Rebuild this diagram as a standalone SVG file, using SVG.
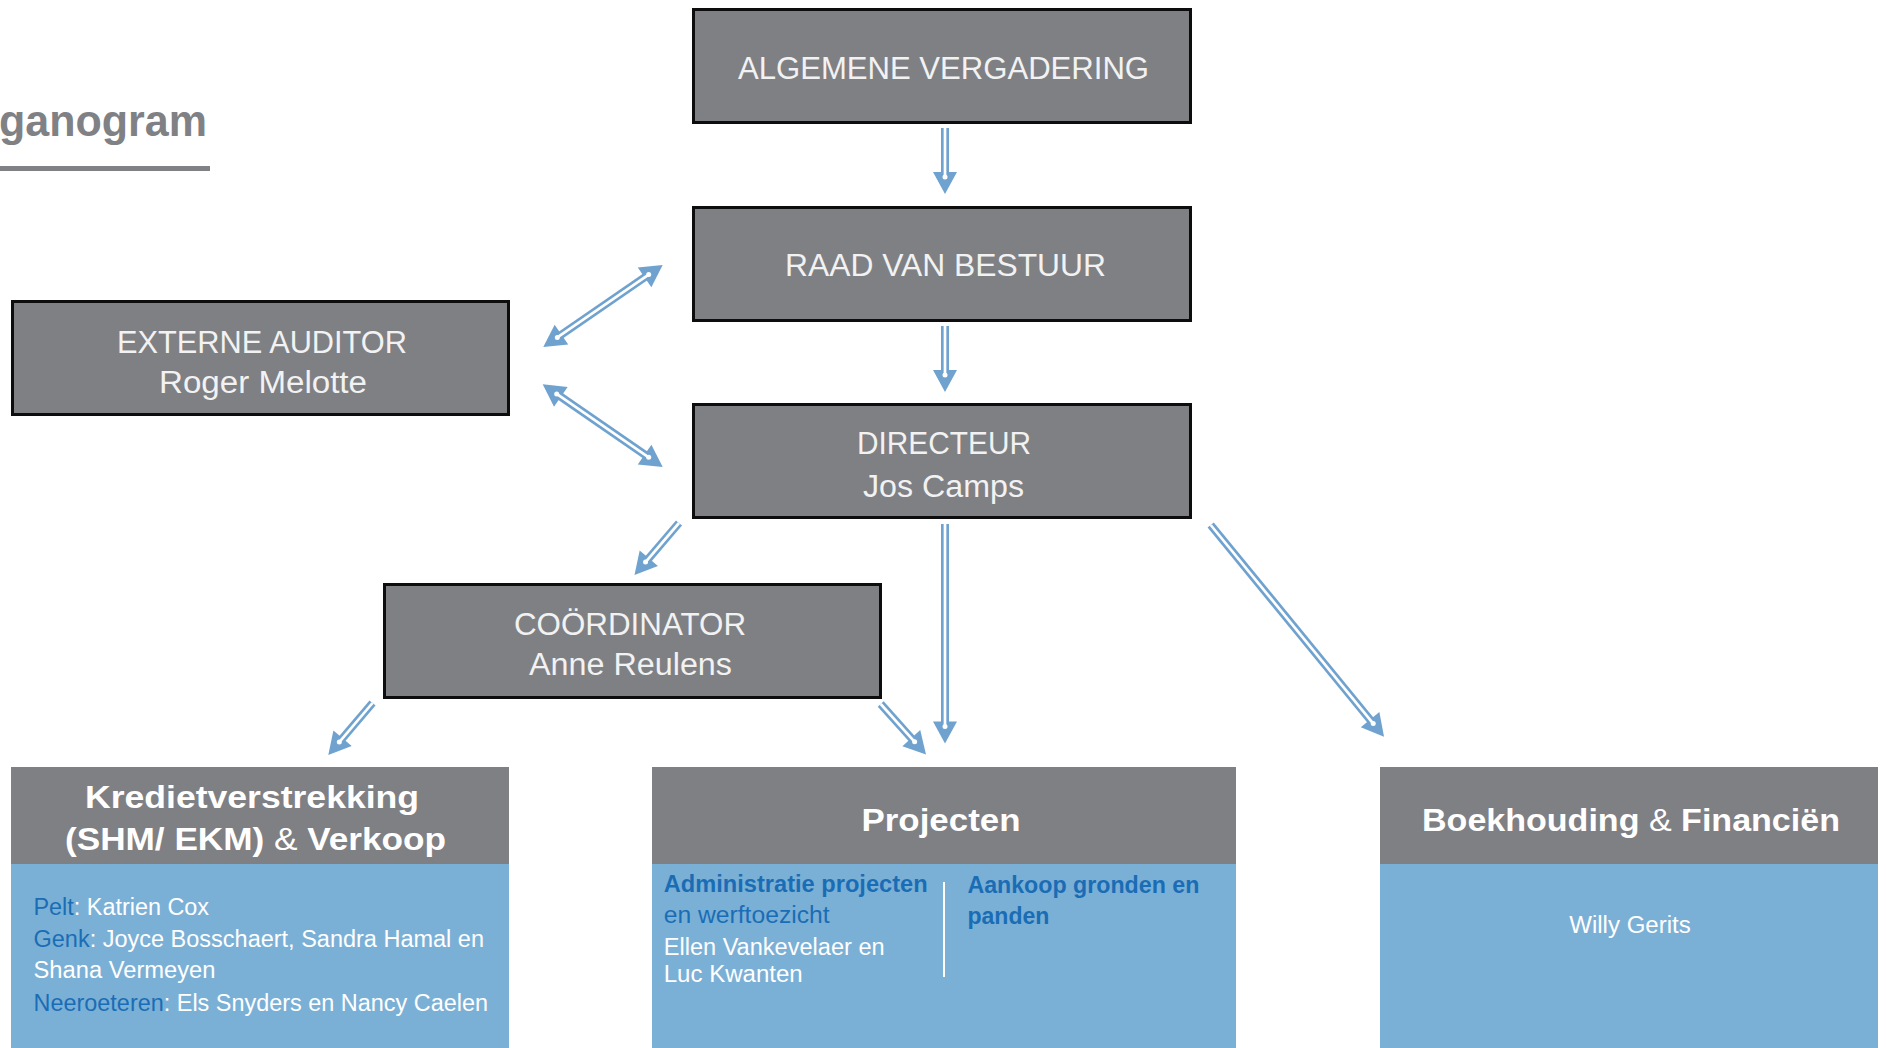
<svg xmlns="http://www.w3.org/2000/svg" width="1887" height="1048" viewBox="0 0 1887 1048">
<style>
.box{fill:#7f8084;stroke:#0d0d0d;stroke-width:3}
.hdr{fill:#7f8084}
.body{fill:#7bb0d6}
.t{font-family:"Liberation Sans",Arial,sans-serif;fill:#f2f2f2;text-anchor:middle;font-size:31px}
.h{font-family:"Liberation Sans",Arial,sans-serif;fill:#ffffff;text-anchor:middle;font-size:31px;font-weight:bold}
.amp{font-weight:normal}
.b{font-family:"Liberation Sans",Arial,sans-serif;fill:#ffffff;font-size:23px}
.bl{fill:#1a6db5}
.bb{font-weight:bold}
.sh{stroke:#6fa2cf;stroke-width:8;fill:none;stroke-linecap:butt}
.wh{stroke:#ffffff;stroke-width:2.7;fill:none;stroke-linecap:butt}
.hd{fill:#6fa2cf}
.dot{fill:#ffffff}
</style>
<rect width="1887" height="1048" fill="#ffffff"/>
<g id="title">
<text x="-1" y="136" font-family="Liberation Sans, Arial, sans-serif" font-weight="bold" font-size="44" fill="#7f8185" textLength="208" lengthAdjust="spacingAndGlyphs">ganogram</text>
<rect x="0" y="166" width="210" height="5" fill="#808185"/>
</g>
<g id="algemene-vergadering">
<rect class="box" x="693.5" y="9.5" width="497" height="113"/>
<text class="t" x="943.5" y="79" textLength="411" lengthAdjust="spacingAndGlyphs">ALGEMENE VERGADERING</text>
</g>
<g id="raad-van-bestuur">
<rect class="box" x="693.5" y="207.5" width="497" height="113"/>
<text class="t" x="945.5" y="276" textLength="321" lengthAdjust="spacingAndGlyphs">RAAD VAN BESTUUR</text>
</g>
<g id="directeur">
<rect class="box" x="693.5" y="404.5" width="497" height="113"/>
<text class="t" x="944" y="454" textLength="174" lengthAdjust="spacingAndGlyphs">DIRECTEUR</text>
<text class="t" x="943.5" y="497" textLength="161" lengthAdjust="spacingAndGlyphs">Jos Camps</text>
</g>
<g id="externe-auditor">
<rect class="box" x="12.5" y="301.5" width="496" height="113"/>
<text class="t" x="262" y="353" textLength="290" lengthAdjust="spacingAndGlyphs">EXTERNE AUDITOR</text>
<text class="t" x="263" y="393" textLength="208" lengthAdjust="spacingAndGlyphs">Roger Melotte</text>
</g>
<g id="coordinator">
<rect class="box" x="384.5" y="584.5" width="496" height="113"/>
<text class="t" x="630" y="635" textLength="232" lengthAdjust="spacingAndGlyphs">COÖRDINATOR</text>
<text class="t" x="630.5" y="675" textLength="203" lengthAdjust="spacingAndGlyphs">Anne Reulens</text>
</g>
<g id="kredietverstrekking">
<rect class="hdr" x="11" y="767" width="498" height="97"/>
<rect class="body" x="11" y="864" width="498" height="184"/>
<text class="h" x="252" y="808" textLength="334" lengthAdjust="spacingAndGlyphs">Kredietverstrekking</text>
<text class="h" x="255.5" y="850" textLength="381" lengthAdjust="spacingAndGlyphs">(SHM/ EKM) <tspan class="amp">&amp;</tspan> Verkoop</text>
<text class="b" x="33.5" y="915" textLength="175.5" lengthAdjust="spacingAndGlyphs"><tspan class="bl">Pelt</tspan>: Katrien Cox</text>
<text class="b" x="33.5" y="947" textLength="450.5" lengthAdjust="spacingAndGlyphs"><tspan class="bl">Genk</tspan>: Joyce Bosschaert, Sandra Hamal en</text>
<text class="b" x="33.5" y="978" textLength="182" lengthAdjust="spacingAndGlyphs">Shana Vermeyen</text>
<text class="b" x="33.5" y="1011" textLength="454.5" lengthAdjust="spacingAndGlyphs"><tspan class="bl">Neeroeteren</tspan>: Els Snyders en Nancy Caelen</text>
</g>
<g id="projecten">
<rect class="hdr" x="652" y="767" width="584" height="97"/>
<rect class="body" x="652" y="864" width="584" height="184"/>
<text class="h" x="941" y="831" textLength="159" lengthAdjust="spacingAndGlyphs">Projecten</text>
<text class="b bl bb" x="663.7" y="892" textLength="264" lengthAdjust="spacingAndGlyphs">Administratie projecten</text>
<text class="b bl" x="663.7" y="923" textLength="166" lengthAdjust="spacingAndGlyphs">en werftoezicht</text>
<text class="b" x="663.7" y="955" textLength="221" lengthAdjust="spacingAndGlyphs">Ellen Vankevelaer en</text>
<text class="b" x="663.7" y="982" textLength="139" lengthAdjust="spacingAndGlyphs">Luc Kwanten</text>
<line x1="944" y1="882" x2="944" y2="977" stroke="#ffffff" stroke-width="2"/>
<text class="b bl bb" x="967.4" y="893" textLength="232" lengthAdjust="spacingAndGlyphs">Aankoop gronden en</text>
<text class="b bl bb" x="967.4" y="924" textLength="82" lengthAdjust="spacingAndGlyphs">panden</text>
</g>
<g id="boekhouding">
<rect class="hdr" x="1380" y="767" width="498" height="97"/>
<rect class="body" x="1380" y="864" width="498" height="184"/>
<text class="h" x="1631" y="831" textLength="418" lengthAdjust="spacingAndGlyphs">Boekhouding <tspan class="amp">&amp;</tspan> Financiën</text>
<text class="b" x="1630" y="933" text-anchor="middle" textLength="121.5" lengthAdjust="spacingAndGlyphs">Willy Gerits</text>
</g>
<g id="connectors">
<!-- 1 Algemene -> Raad -->
<line class="sh" x1="945" y1="128" x2="945" y2="174"/>
<polygon class="hd" points="945,194 933,172 957,172"/>
<line class="wh" x1="945" y1="128" x2="945" y2="177"/>
<circle class="dot" cx="945" cy="177" r="2.5"/>
<!-- 2 Raad -> Directeur -->
<line class="sh" x1="945" y1="326" x2="945" y2="372"/>
<polygon class="hd" points="945,392 933,370 957,370"/>
<line class="wh" x1="945" y1="326" x2="945" y2="375"/>
<circle class="dot" cx="945" cy="375" r="2.5"/>
<!-- 3 Externe <-> Raad -->
<line class="sh" x1="559.78" y1="335.68" x2="646.22" y2="276.32"/>
<polygon class="hd" points="662.7,265 651.36,287.34 637.78,267.56"/>
<polygon class="hd" points="543.3,347 568.22,344.44 554.64,324.66"/>
<line class="wh" x1="557.31" y1="337.38" x2="648.69" y2="274.62"/>
<circle class="dot" cx="557.31" cy="337.38" r="2.5"/>
<circle class="dot" cx="648.69" cy="274.62" r="2.5"/>
<!-- 4 Externe <-> Directeur -->
<line class="sh" x1="559.16" y1="395.65" x2="646.24" y2="455.66"/>
<polygon class="hd" points="662.7,467 637.78,464.40 651.40,444.64"/>
<polygon class="hd" points="542.7,384.3 554.0,406.66 567.62,386.90"/>
<line class="wh" x1="556.69" y1="393.94" x2="648.71" y2="457.36"/>
<circle class="dot" cx="556.69" cy="393.94" r="2.5"/>
<circle class="dot" cx="648.71" cy="457.36" r="2.5"/>
<!-- 5 Directeur -> Coordinator -->
<line class="sh" x1="679" y1="523" x2="647.50" y2="559.80"/>
<polygon class="hd" points="634.5,575 657.92,566.08 639.68,550.48"/>
<line class="wh" x1="679" y1="523" x2="645.55" y2="562.08"/>
<circle class="dot" cx="645.55" cy="562.08" r="2.5"/>
<!-- 6 Directeur -> Projecten -->
<line class="sh" x1="945" y1="524" x2="945" y2="723.5"/>
<polygon class="hd" points="945,743.5 933,721.5 957,721.5"/>
<line class="wh" x1="945" y1="524" x2="945" y2="726.5"/>
<circle class="dot" cx="945" cy="726.5" r="2.5"/>
<!-- 7 Directeur -> Boekhouding -->
<line class="sh" x1="1210.7" y1="525" x2="1371.34" y2="721.23"/>
<polygon class="hd" points="1384,736.7 1360.79,727.28 1379.35,712.08"/>
<line class="wh" x1="1210.7" y1="525" x2="1373.24" y2="723.55"/>
<circle class="dot" cx="1373.24" cy="723.55" r="2.5"/>
<!-- 8 Coordinator -> Kredietverstrekking -->
<line class="sh" x1="372.5" y1="703" x2="341.25" y2="739.76"/>
<polygon class="hd" points="328.3,755 351.69,746.01 333.41,730.47"/>
<line class="wh" x1="372.5" y1="703" x2="339.31" y2="742.05"/>
<circle class="dot" cx="339.31" cy="742.05" r="2.5"/>
<!-- 9 Coordinator -> Projecten -->
<line class="sh" x1="880.7" y1="704" x2="912.65" y2="739.61"/>
<polygon class="hd" points="926,754.5 902.38,746.13 920.24,730.11"/>
<line class="wh" x1="880.7" y1="704" x2="914.65" y2="741.84"/>
<circle class="dot" cx="914.65" cy="741.84" r="2.5"/>
</g>
</svg>
